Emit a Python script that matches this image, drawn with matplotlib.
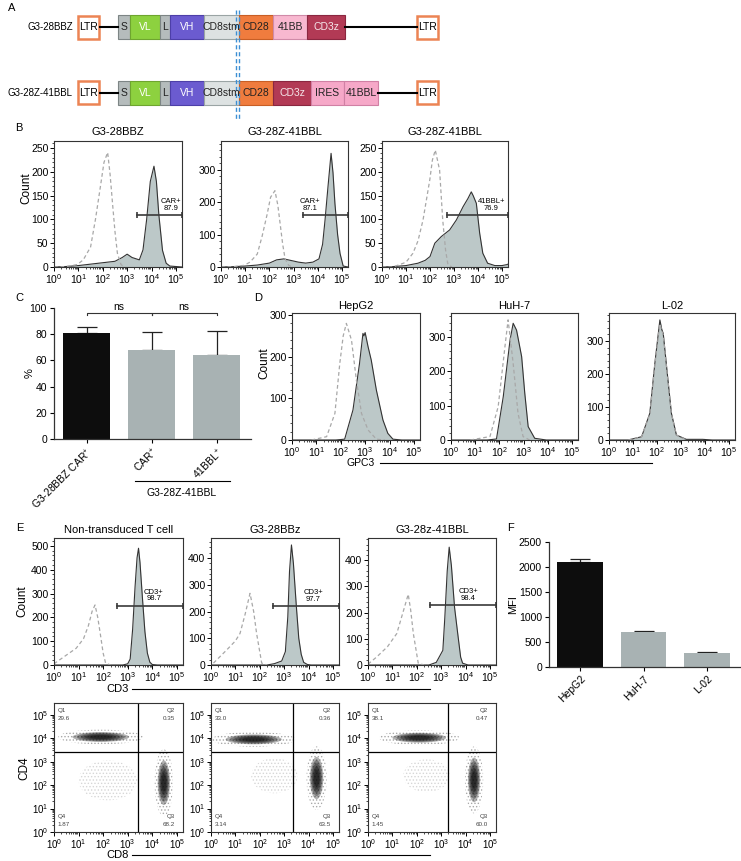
import numpy as np
import matplotlib
matplotlib.use('Agg')
import matplotlib.pyplot as plt
from matplotlib.patches import Rectangle, Ellipse
from matplotlib.ticker import MultipleLocator

plt.rcParams['font.family'] = 'Liberation Sans'
plt.rcParams['mathtext.default'] = 'regular'
plt.rcParams['font.size'] = 7
plt.rcParams['hatch.linewidth'] = 0.6

W, H = 741, 861

# ---------------- data ----------------
# panel A: construct parts
row1_parts = ['S', 'VL', 'L', 'VH', 'CD8stm', 'CD28', '41BB', 'CD3z']
row2_parts = ['S', 'VL', 'L', 'VH', 'CD8stm', 'CD28', 'CD3z', 'IRES', '41BBL']
row_names = ['G3-28BBZ', 'G3-28Z-41BBL']

# panel B: log10 fluorescence vs count (dashed = control, filled = sample)
b1_ctrl_x = [0, 0.5, 0.95, 1.2, 1.5, 1.7, 1.9, 2.05, 2.2, 2.3, 2.4, 2.5, 2.6, 2.75, 2.9]
b1_ctrl_y = [0, 1, 5, 15, 42, 100, 168, 220, 241, 195, 134, 75, 29, 5, 0]
b1_car_x = [0, 0.5, 1.0, 1.5, 2.0, 2.5, 2.8, 3.0, 3.2, 3.5, 3.65, 3.8, 3.95, 4.1, 4.2, 4.3, 4.45, 4.6, 4.75, 5.0, 5.25]
b1_car_y = [0, 1, 3, 6, 9, 12, 20, 27, 20, 15, 36, 100, 180, 212, 180, 110, 35, 8, 2, 1, 0]

b2_ctrl_x = [0, 0.5, 0.95, 1.2, 1.5, 1.7, 1.9, 2.05, 2.23, 2.35, 2.45, 2.55, 2.65, 2.8, 2.95]
b2_ctrl_y = [0, 1, 5, 15, 40, 95, 160, 215, 235, 190, 130, 70, 25, 5, 0]
b2_car_x = [0, 0.5, 1.0, 1.5, 2.0, 2.3, 2.6, 2.9, 3.2, 3.5, 3.8, 4.05, 4.2, 4.3, 4.42, 4.55, 4.63, 4.71, 4.82, 4.92, 5.05, 5.25]
b2_car_y = [0, 1, 3, 6, 12, 22, 25, 20, 15, 12, 15, 25, 70, 144, 245, 350, 290, 195, 100, 42, 3, 0]

b3_ctrl_x = [0, 0.46, 1.0, 1.29, 1.5, 1.71, 1.99, 2.1, 2.22, 2.4, 2.53, 2.65, 2.74, 2.9]
b3_ctrl_y = [0, 0, 10, 29, 55, 99, 183, 225, 246, 204, 99, 35, 7, 0]
b3_bbl_x = [0, 0.5, 1.0, 1.5, 1.8, 2.0, 2.2, 2.47, 2.82, 3.1, 3.38, 3.58, 3.72, 3.8, 3.93, 4.07, 4.2, 4.4, 4.7, 5.0, 5.2, 5.25]
b3_bbl_y = [0, 1, 3, 8, 14, 22, 50, 64, 78, 99, 127, 144, 158, 150, 134, 71, 29, 8, 3, 3, 5, 6]

b_titles = ['G3-28BBZ', 'G3-28Z-41BBL', 'G3-28Z-41BBL']
b_gates = [(3.4, 109, 'CAR+\n87.9', 4.81), (3.4, 159, 'CAR+\n87.1', 3.68), (2.7, 109, '41BBL+\n76.9', 4.56)]

# panel C
c_labels = ['G3-28BBZ CAR$^{+}$', 'CAR$^{+}$', '41BBL$^{+}$']
c_means = [81, 68, 64]
c_errs = [4.5, 13.5, 18.5]

# panel D: GPC3 staining
d1_ctrl_x = [0.8, 1.42, 1.76, 1.96, 2.1, 2.23, 2.44, 2.64, 2.85, 3.12, 3.46, 3.8]
d1_ctrl_y = [0, 8, 64, 184, 250, 280, 240, 144, 64, 24, 2, 0]
d1_gpc3_x = [0, 1.8, 2.16, 2.5, 2.77, 2.91, 2.95, 3.0, 3.12, 3.25, 3.46, 3.73, 3.93, 4.14, 4.5, 5.25]
d1_gpc3_y = [0, 0, 2, 72, 184, 256, 250, 258, 224, 192, 120, 48, 16, 2, 0, 0]

d2_ctrl_x = [0.8, 1.61, 1.95, 2.23, 2.36, 2.57, 2.77, 2.98, 3.25]
d2_ctrl_y = [0, 10, 97, 272, 350, 223, 78, 10, 0]
d2_gpc3_x = [0, 1.5, 1.88, 2.16, 2.44, 2.57, 2.71, 2.92, 3.05, 3.19, 3.46, 3.94, 5.25]
d2_gpc3_y = [0, 0, 3, 126, 291, 340, 320, 243, 136, 39, 5, 0, 0]

d3_ctrl_x = [0.8, 1.36, 1.7, 1.91, 2.12, 2.26, 2.4, 2.6, 2.81, 3.22]
d3_ctrl_y = [0, 10, 78, 228, 352, 318, 218, 80, 15, 0]
d3_gpc3_x = [0, 0.8, 1.36, 1.7, 1.91, 2.12, 2.2, 2.26, 2.4, 2.6, 2.81, 3.22, 3.9, 4.3, 5.25]
d3_gpc3_y = [0, 0, 10, 81, 232, 364, 335, 323, 222, 81, 15, 2, 2, 0, 0]

d_titles = ['HepG2', 'HuH-7', 'L-02']

# panel E: CD3 histograms
e1_ctrl_x = [0, 0.51, 0.9, 1.2, 1.4, 1.55, 1.67, 1.78, 1.9, 2.0, 2.1, 2.3]
e1_ctrl_y = [5, 42, 70, 110, 165, 225, 252, 200, 120, 50, 8, 0]
e1_cd3_x = [0, 2.8, 3.0, 3.1, 3.2, 3.3, 3.38, 3.44, 3.5, 3.6, 3.7, 3.8, 3.9, 4.0, 4.2, 5.25]
e1_cd3_y = [0, 0, 5, 25, 150, 330, 450, 490, 430, 280, 140, 50, 12, 2, 0, 0]

e2_ctrl_x = [0.1, 0.64, 1.0, 1.19, 1.4, 1.6, 1.75, 1.87, 2.08, 2.3]
e2_ctrl_y = [7, 56, 90, 118, 190, 268, 200, 118, 7, 0]
e2_cd3_x = [0, 2.3, 2.6, 2.9, 3.05, 3.15, 3.22, 3.3, 3.38, 3.5, 3.6, 3.7, 3.8, 3.95, 4.1, 5.25]
e2_cd3_y = [0, 0, 5, 15, 50, 180, 350, 449, 380, 220, 100, 40, 10, 2, 0, 0]

e3_ctrl_x = [0, 0.36, 0.8, 1.18, 1.4, 1.65, 1.75, 1.86, 2.06, 2.3]
e3_ctrl_y = [3, 31, 70, 120, 190, 270, 210, 120, 7, 0]
e3_cd3_x = [0, 2.5, 2.8, 3.07, 3.15, 3.25, 3.33, 3.42, 3.55, 3.68, 3.8, 3.88, 4.1, 5.25]
e3_cd3_y = [0, 0, 10, 56, 180, 360, 450, 380, 220, 120, 30, 7, 0, 0]

e_titles = ['Non-transduced T cell', 'G3-28BBz', 'G3-28z-41BBL']
e_gates = [(2.58, 248, 'CD3+\n98.7', 4.06), (2.54, 220, 'CD3+\n97.7', 4.19), (2.54, 228, 'CD3+\n98.4', 4.11)]

# panel E: CD4/CD8 populations (centre x, centre y, width, height in log10 units)
e4_cd4 = (1.9, 4.05, 2.3, 0.42)
e4_cd8 = (4.47, 2.1, 0.5, 1.9)
e4_dn = (2.2, 2.2, 2.4, 1.7)
e5_cd4 = (1.75, 3.95, 2.3, 0.42)
e5_cd8 = (4.33, 2.3, 0.55, 1.8)
e5_dn = (2.6, 2.4, 1.9, 1.5)
e6_cd4 = (2.1, 4.02, 2.2, 0.42)
e6_cd8 = (4.35, 2.22, 0.5, 1.9)
e6_dn = (2.4, 2.4, 1.9, 1.4)
e_gate_x = [3.4, 3.36, 3.3]
e_gate_y = 3.42
e4_quads = ['29.6', '0.35', '68.2', '1.87']
e5_quads = ['33.0', '0.36', '63.5', '3.14']
e6_quads = ['38.1', '0.47', '60.0', '1.45']

# panel F
f_labels = ['HepG2', 'HuH-7', 'L-02']
f_means = [2100, 705, 275]
f_errs = [60, 12, 32]

# ---------------- figure ----------------
fig = plt.figure(figsize=(W / 100, H / 100), dpi=100)
ov = fig.add_axes([0, 0, 1, 1])
ov.set_xlim(0, W)
ov.set_ylim(H, 0)
ov.axis('off')


def px_axes(l, t, r, b):
    return fig.add_axes([l / W, 1 - b / H, (r - l) / W, (b - t) / H])


def log_ticks(axis):
    axis.set_ticks(range(6))
    axis.set_ticklabels(['$10^{%d}$' % k for k in range(6)])
    minors = [k + np.log10(m) for k in range(6) for m in range(2, 10)]
    axis.set_ticks([m for m in minors if m < 5.25], minor=True)


def flow_axes(rect, ymax, ystep, yminor):
    ax = px_axes(*rect)
    ax.set_xlim(0, 5.25)
    ax.set_ylim(0, ymax)
    log_ticks(ax.xaxis)
    ax.yaxis.set_major_locator(MultipleLocator(ystep))
    ax.yaxis.set_minor_locator(MultipleLocator(yminor))
    ax.tick_params(which='major', length=3, width=0.7, pad=1, labelsize=7.5)
    ax.tick_params(which='minor', length=1.5, width=0.5)
    for s in ax.spines.values():
        s.set_linewidth(0.8)
        s.set_color('#333333')
    return ax


def hist(ax, cx, cy, sx, sy):
    ax.fill_between(sx, sy, color='#bcc8c8', lw=0)
    ax.plot(sx, sy, color='#333333', lw=0.8)
    ax.plot(cx, cy, color='#a8a8a8', lw=0.9, dashes=(3, 2.2))


def gate(ax, x0, y, label, lx):
    ax.plot([x0, 5.25], [y, y], color='#3a3a3a', lw=1.2, marker='|', ms=4.5, mew=1.2, clip_on=False)
    ax.annotate(label, (lx, y), xytext=(0, 2.5), textcoords='offset points',
                ha='center', va='bottom', fontsize=5.5, linespacing=0.95)


# ---- panel A ----
palette = {
    'S': ('#b5bcbc', '#7d8585', '#222222'),
    'L': ('#b5bcbc', '#7d8585', '#222222'),
    'VL': ('#8dd13f', '#6ea52f', 'white'),
    'VH': ('#6b5bd0', '#4d3fa8', 'white'),
    'CD8stm': ('#dde2e2', '#9aa4a4', '#222222'),
    'CD28': ('#f07c3e', '#c85e25', '#222222'),
    '41BB': ('#f8b8d0', '#d08aa8', '#222222'),
    'CD3z': ('#b23a55', '#8a2740', '#f5e6ea'),
    'IRES': ('#f6a8c8', '#d080a4', '#222222'),
    '41BBL': ('#f6a8c8', '#d080a4', '#222222'),
}
widths = {'S': 12, 'L': 10, 'VL': 30, 'VH': 34, 'CD8stm': 35, 'CD28': 34, '41BB': 34,
          'CD3z': 38, 'IRES': 33, '41BBL': 34}
for parts, yc, name in [(row1_parts, 27, row_names[0]), (row2_parts, 92.5, row_names[1])]:
    ov.text(73, yc, name, ha='right', va='center', fontsize=7)
    x = 118
    for p in parts:
        fc, ec, tc = palette[p]
        w = widths[p]
        ov.add_patch(Rectangle((x, yc - 12), w, 24, fc=fc, ec=ec, lw=0.8))
        ov.text(x + w / 2, yc, p, ha='center', va='center', fontsize=7.5, color=tc)
        x += w
    ov.plot([100, 118], [yc, yc], color='black', lw=1.5)
    ov.plot([x, 417], [yc, yc], color='black', lw=1.5)
    for lx in (78, 417):
        ov.add_patch(Rectangle((lx, yc - 11.5), 21, 23, fc='white', ec='#ec8454', lw=1.8))
        ov.text(lx + 10.5, yc, 'LTR', ha='center', va='center', fontsize=7.5)
for vx in (235.5, 239):
    ov.plot([vx, vx], [10, 119], color='#3d8fd4', lw=1.0, dashes=(3, 2))

# ---- panel letters ----
for letter, lx, ly in [('A', 12, 8), ('B', 19, 128), ('C', 19, 298), ('D', 258, 298),
                       ('E', 20, 528), ('F', 510, 528)]:
    ov.text(lx, ly, letter, ha='center', va='center', fontsize=8)

# ---- panel B ----
b_rects = [(54, 141, 182, 267), (221, 141, 348, 267), (382, 141, 508, 267)]
b_ylims = [(265, 50, 10), (388, 100, 20), (265, 50, 10)]
b_series = [(b1_ctrl_x, b1_ctrl_y, b1_car_x, b1_car_y),
            (b2_ctrl_x, b2_ctrl_y, b2_car_x, b2_car_y),
            (b3_ctrl_x, b3_ctrl_y, b3_bbl_x, b3_bbl_y)]
for rect, yl, ser, g, t in zip(b_rects, b_ylims, b_series, b_gates, b_titles):
    ax = flow_axes(rect, *yl)
    hist(ax, *ser)
    gate(ax, *g)
    ov.text((rect[0] + rect[2]) / 2, 132, t, ha='center', va='center', fontsize=8)
ov.text(26, 188, 'Count', rotation=90, ha='center', va='center', fontsize=8.5)

# ---- panel C ----
axc = px_axes(54, 308, 251, 439)
xc = np.arange(len(c_means))
axc.bar(xc, c_means, width=0.72, color=['#0d0d0d', '#a8b2b3', '#a8b2b3'], zorder=2)
axc.errorbar(xc, c_means, yerr=[np.zeros(3), c_errs], fmt='none', ecolor='#222222',
             elinewidth=0.9, capsize=7, capthick=0.9, zorder=1)
axc.set_xlim(-0.5, 2.53)
axc.set_ylim(0, 100)
axc.set_yticks(range(0, 101, 20))
axc.set_xticks(xc)
axc.set_xticklabels(c_labels, rotation=45, ha='right', va='top', rotation_mode='anchor', fontsize=7.5)
axc.tick_params(length=3, width=0.8, pad=2, labelsize=7.5)
for s in ['top', 'right']:
    axc.spines[s].set_visible(False)
for s in ['left', 'bottom']:
    axc.spines[s].set_linewidth(0.9)
    axc.spines[s].set_color('#333333')
for a, b in [(0, 1), (1, 2)]:
    axc.plot([a, a, b, b], [94.5, 96, 96, 94.5], color='#333333', lw=0.8, clip_on=False)
    axc.text((a + b) / 2, 97, 'ns', ha='center', va='bottom', fontsize=7.5)
ov.text(30, 373, '%', rotation=90, ha='center', va='center', fontsize=8)
ov.plot([135, 230], [481, 481], color='black', lw=0.8)
ov.text(182, 493, 'G3-28Z-41BBL', ha='center', va='center', fontsize=7.5)

# ---- panel D ----
d_rects = [(292, 313, 420, 440), (451, 313, 578, 440), (609, 313, 735, 440)]
d_ylims = [(305, 100, 20), (370, 100, 20), (385, 100, 20)]
d_series = [(d1_ctrl_x, d1_ctrl_y, d1_gpc3_x, d1_gpc3_y),
            (d2_ctrl_x, d2_ctrl_y, d2_gpc3_x, d2_gpc3_y),
            (d3_ctrl_x, d3_ctrl_y, d3_gpc3_x, d3_gpc3_y)]
for rect, yl, ser, t in zip(d_rects, d_ylims, d_series, d_titles):
    ax = flow_axes(rect, *yl)
    hist(ax, *ser)
    ov.text((rect[0] + rect[2]) / 2, 306, t, ha='center', va='center', fontsize=8)
ov.text(264, 363, 'Count', rotation=90, ha='center', va='center', fontsize=8.5)
ov.text(361, 463, 'GPC3', ha='center', va='center', fontsize=7.5)
ov.plot([380, 652], [463, 463], color='black', lw=0.8)

# ---- panel E histograms ----
e_rects = [(54, 538, 183, 665), (211, 538, 339, 665), (368, 538, 496, 665)]
e_ylims = [(533, 100, 20), (475, 100, 20), (485, 100, 20)]
e_series = [(e1_ctrl_x, e1_ctrl_y, e1_cd3_x, e1_cd3_y),
            (e2_ctrl_x, e2_ctrl_y, e2_cd3_x, e2_cd3_y),
            (e3_ctrl_x, e3_ctrl_y, e3_cd3_x, e3_cd3_y)]
for rect, yl, ser, g, t in zip(e_rects, e_ylims, e_series, e_gates, e_titles):
    ax = flow_axes(rect, *yl)
    hist(ax, *ser)
    gate(ax, *g)
    ov.text((rect[0] + rect[2]) / 2, 530, t, ha='center', va='center', fontsize=8)
ov.text(22, 601, 'Count', rotation=90, ha='center', va='center', fontsize=8.5)
ov.text(118, 689, 'CD3', ha='center', va='center', fontsize=8)
ov.plot([132, 430], [689, 689], color='black', lw=0.8)

# ---- panel E dot plots ----
dot_rects = [(54, 703, 183, 832), (211, 703, 339, 832), (368, 703, 496, 832)]
dot_pops = [(e4_cd4, e4_cd8), (e5_cd4, e5_cd8), (e6_cd4, e6_cd8)]
dot_dn = [e4_dn, e5_dn, e6_dn]
dot_quads = [e4_quads, e5_quads, e6_quads]
for rect, pops, dn, quads, gx in zip(dot_rects, dot_pops, dot_dn, dot_quads, e_gate_x):
    ax = flow_axes(rect, 5.5, 1, 1)
    log_ticks(ax.yaxis)
    ax.set_ylim(0, 5.5)
    ax.tick_params(labelsize=7)
    ax.add_patch(Ellipse(dn[:2], dn[2], dn[3], fc='none', ec='#d6d6d6', lw=0, hatch='.....'))
    for cx, cy, w, h in pops:
        ax.add_patch(Ellipse((cx, cy), w * 1.5, h * 1.5, fc='none', ec='#a8a8a8', lw=0, hatch='.....'))
        for sc in [1.0, 0.85, 0.7, 0.55, 0.4]:
            ax.add_patch(Ellipse((cx, cy), w * sc, h * sc, fc='black', lw=0, alpha=0.3))
    ax.axvline(gx, color='black', lw=0.9)
    ax.axhline(e_gate_y, color='black', lw=0.9)
    q1, q2, q3, q4 = quads
    kw = dict(transform=ax.transAxes, fontsize=4.5, color='#444444', linespacing=1.6)
    ax.text(0.03, 0.96, 'Q1\n' + q1, ha='left', va='top', **kw)
    ax.text(0.94, 0.96, 'Q2\n' + q2, ha='right', va='top', **kw)
    ax.text(0.94, 0.04, 'Q3\n' + q3, ha='right', va='bottom', **kw)
    ax.text(0.03, 0.04, 'Q4\n' + q4, ha='left', va='bottom', **kw)
ov.text(24, 768, 'CD4', rotation=90, ha='center', va='center', fontsize=8.5)
ov.text(118, 855, 'CD8', ha='center', va='center', fontsize=8)
ov.plot([132, 430], [855, 855], color='black', lw=0.8)

# ---- panel F ----
axf = px_axes(549, 542, 740, 667)
xf = np.arange(len(f_means))
axf.bar(xf, f_means, width=0.72, color=['#0d0d0d', '#a8b2b3', '#a8b2b3'], zorder=2)
axf.errorbar(xf, f_means, yerr=[np.zeros(3), f_errs], fmt='none', ecolor='#222222',
             elinewidth=0.9, capsize=7, capthick=0.9, zorder=1)
axf.set_xlim(-0.49, 2.52)
axf.set_ylim(0, 2500)
axf.set_yticks(range(0, 2501, 500))
axf.set_xticks(xf)
axf.set_xticklabels(f_labels, rotation=45, ha='right', va='top', rotation_mode='anchor', fontsize=7.5)
axf.tick_params(length=3, width=0.8, pad=2, labelsize=7.5)
for s in ['top', 'right']:
    axf.spines[s].set_visible(False)
for s in ['left', 'bottom']:
    axf.spines[s].set_linewidth(0.9)
    axf.spines[s].set_color('#333333')
ov.text(513, 605, 'MFI', rotation=90, ha='center', va='center', fontsize=8)

fig.savefig('out.png', dpi=100)
